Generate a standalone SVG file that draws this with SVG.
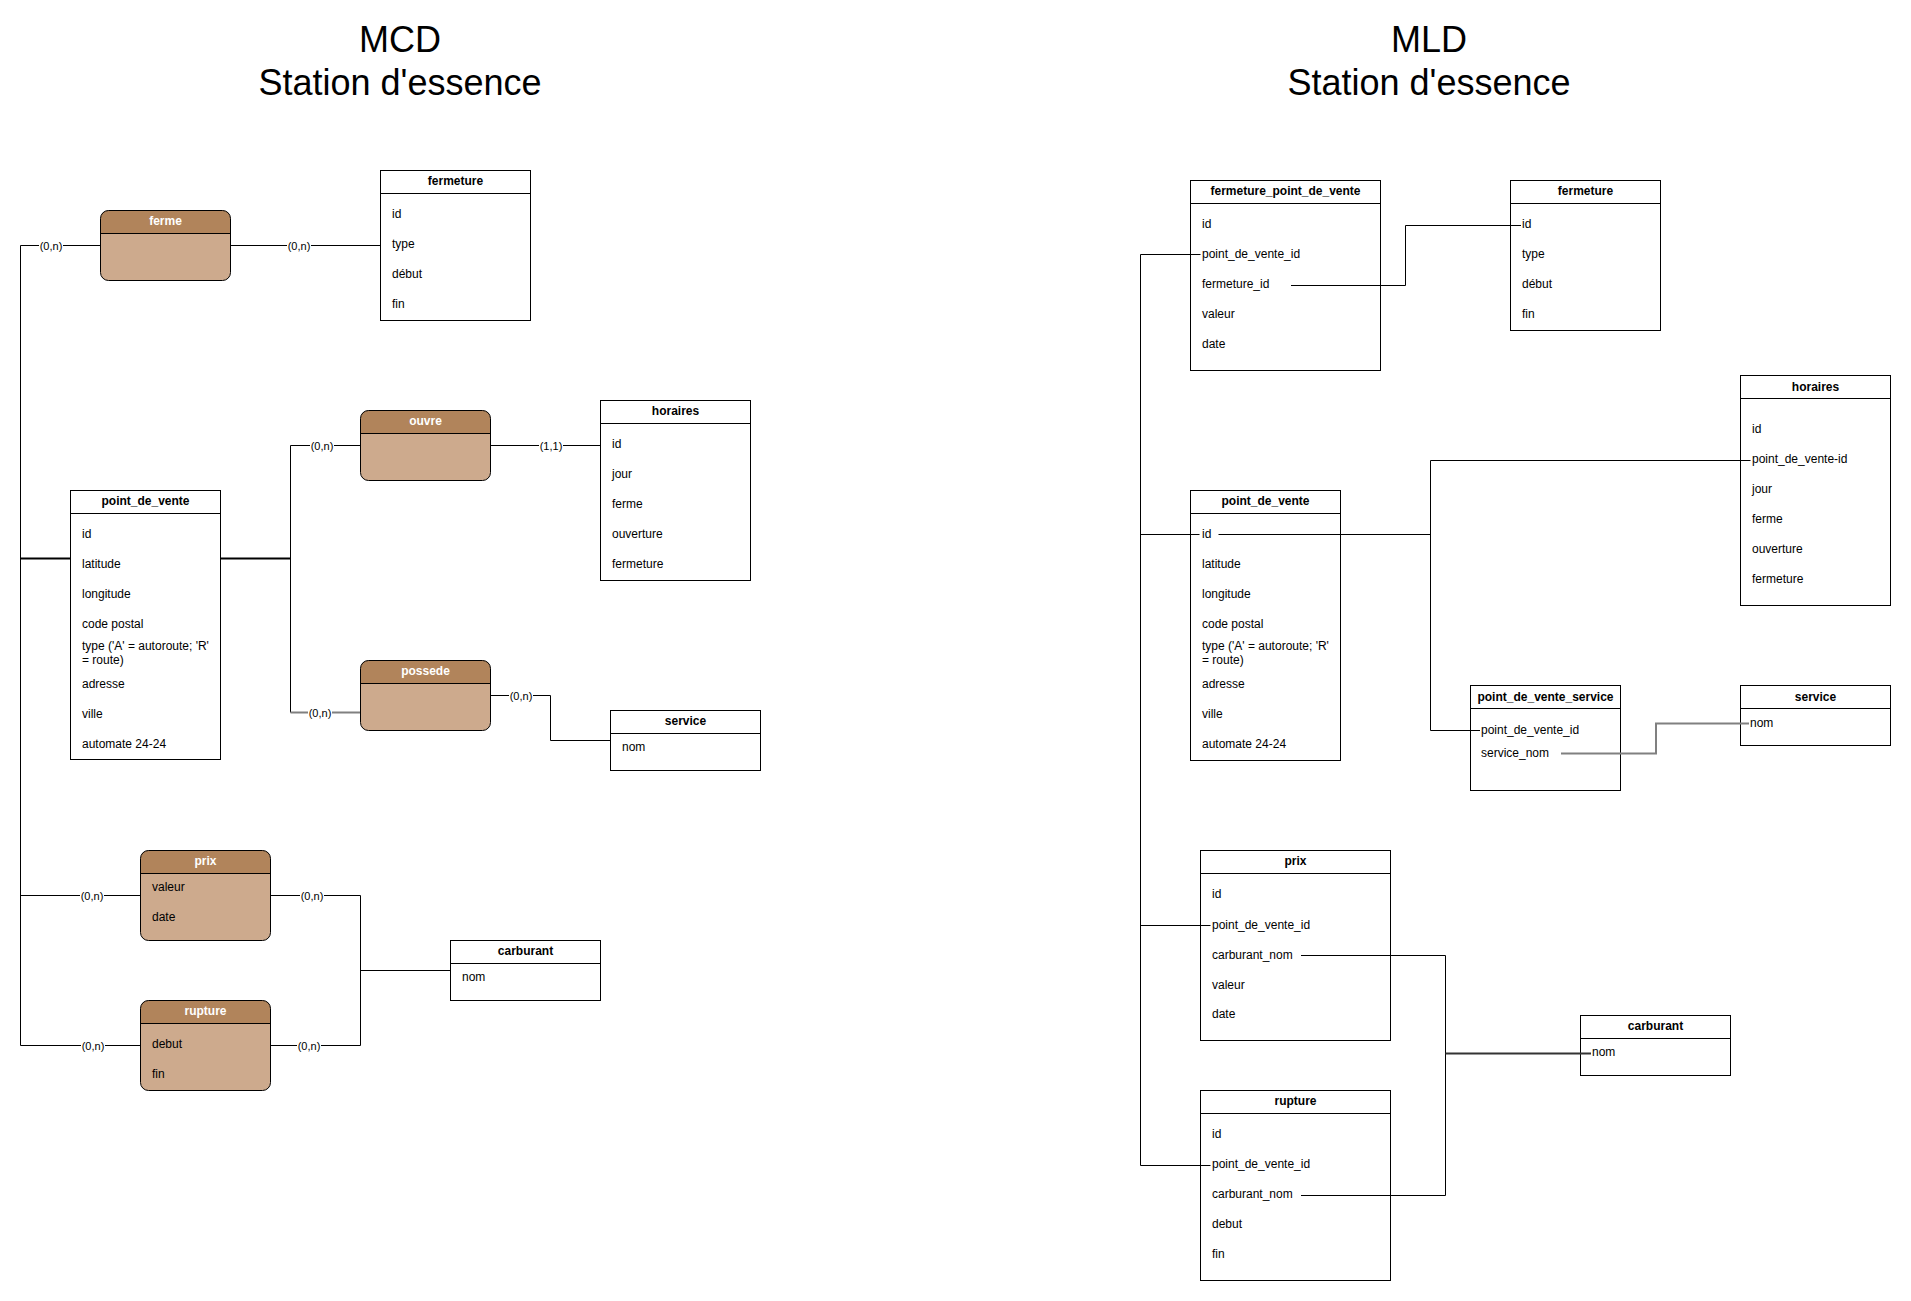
<svg xmlns="http://www.w3.org/2000/svg" width="1911" height="1301" viewBox="0 0 1911 1301">
<style>
text{font-family:"Liberation Sans",Arial,Helvetica,sans-serif;font-size:12px;fill:#000}
.title{font-size:36px;text-anchor:middle}
.box{fill:#fff;stroke:#000;stroke-width:1}
.ln{stroke:#000;stroke-width:1;fill:none}
.hd{font-weight:bold;text-anchor:middle}
.rbody{fill:#CDAA8D;stroke:none}
.rhead{fill:#B1845B;stroke:none}
.rout{fill:none;stroke:#000;stroke-width:1}
.rt{fill:#fff;font-weight:bold;text-anchor:middle}
.c{fill:none;stroke:#000;stroke-width:1}
.cb{fill:none;stroke:#000;stroke-width:2}
.cg{fill:none;stroke:#808080;stroke-width:2}
.cd{fill:none;stroke:#333;stroke-width:2}
.lb{font-size:11px;text-anchor:middle}
.lbg{fill:#fff}
</style>

<g id="titles">
<text class="title" x="400" y="51.5">MCD</text>
<text class="title" x="400" y="95">Station d'essence</text>
<text class="title" x="1429" y="51.5">MLD</text>
<text class="title" x="1429" y="95">Station d'essence</text>
</g>

<g id="connectors">
<!-- MCD -->
<path class="c" d="M100.5 245.5H20.5V1045.5H140.5"/>
<path class="cb" d="M20.5 558.5H70.5"/>
<path class="c" d="M20.5 895.5H140.5"/>
<path class="c" d="M230.5 245.5H380.5"/>
<path class="cb" d="M220.5 558.5H290.5"/>
<path class="c" d="M360.5 445.5H290.5V712.5"/>
<path class="cg" d="M290.5 712.5H360.5"/>
<path class="c" d="M490.5 445.5H600.5"/>
<path class="c" d="M490.5 695.5H550.5V740.5H610.5"/>
<path class="c" d="M270.5 895.5H360.5V1045.5H270.5"/>
<path class="c" d="M360.5 970.5H450.5"/>
<!-- MCD labels -->
<rect class="lbg" x="39" y="239" width="24" height="13"/><text class="lb" x="51" y="249.5">(0,n)</text>
<rect class="lbg" x="287" y="239" width="24" height="13"/><text class="lb" x="299" y="249.5">(0,n)</text>
<rect class="lbg" x="310" y="439" width="24" height="13"/><text class="lb" x="322" y="449.5">(0,n)</text>
<rect class="lbg" x="539" y="439" width="24" height="13"/><text class="lb" x="551" y="449.5">(1,1)</text>
<rect class="lbg" x="308" y="706" width="24" height="13"/><text class="lb" x="320" y="716.5">(0,n)</text>
<rect class="lbg" x="509" y="689" width="24" height="13"/><text class="lb" x="521" y="699.5">(0,n)</text>
<rect class="lbg" x="80" y="889" width="24" height="13"/><text class="lb" x="92" y="899.5">(0,n)</text>
<rect class="lbg" x="300" y="889" width="24" height="13"/><text class="lb" x="312" y="899.5">(0,n)</text>
<rect class="lbg" x="81" y="1039" width="24" height="13"/><text class="lb" x="93" y="1049.5">(0,n)</text>
<rect class="lbg" x="297" y="1039" width="24" height="13"/><text class="lb" x="309" y="1049.5">(0,n)</text>
</g>

<!-- MCD entities -->
<g id="mcd-fermeture">
<rect class="box" x="380.5" y="170.5" width="150" height="150"/>
<path class="ln" d="M380.5 193.5H530.5"/>
<text class="hd" x="455.5" y="185">fermeture</text>
<text x="392" y="217.5">id</text>
<text x="392" y="247.5">type</text>
<text x="392" y="277.5">début</text>
<text x="392" y="307.5">fin</text>
</g>

<g id="mcd-horaires">
<rect class="box" x="600.5" y="400.5" width="150" height="180"/>
<path class="ln" d="M600.5 423.5H750.5"/>
<text class="hd" x="675.5" y="415">horaires</text>
<text x="612" y="447.5">id</text>
<text x="612" y="477.5">jour</text>
<text x="612" y="507.5">ferme</text>
<text x="612" y="537.5">ouverture</text>
<text x="612" y="567.5">fermeture</text>
</g>

<g id="mcd-point_de_vente">
<rect class="box" x="70.5" y="490.5" width="150" height="269"/>
<path class="ln" d="M70.5 513.5H220.5"/>
<text class="hd" x="145.5" y="505">point_de_vente</text>
<text x="82" y="537.5">id</text>
<text x="82" y="567.5">latitude</text>
<text x="82" y="597.5">longitude</text>
<text x="82" y="627.5">code postal</text>
<text x="82" y="650">type ('A' = autoroute; 'R'</text>
<text x="82" y="663.5">= route)</text>
<text x="82" y="687.5">adresse</text>
<text x="82" y="717.5">ville</text>
<text x="82" y="747.5">automate 24-24</text>
</g>

<g id="mcd-service">
<rect class="box" x="610.5" y="710.5" width="150" height="60"/>
<path class="ln" d="M610.5 733.5H760.5"/>
<text class="hd" x="685.5" y="725">service</text>
<text x="622" y="751">nom</text>
</g>

<g id="mcd-carburant">
<rect class="box" x="450.5" y="940.5" width="150" height="60"/>
<path class="ln" d="M450.5 963.5H600.5"/>
<text class="hd" x="525.5" y="955">carburant</text>
<text x="462" y="981">nom</text>
</g>

<!-- MCD relations -->
<g id="rel-ferme">
<rect class="rbody" x="100.5" y="210.5" width="130" height="70" rx="8"/>
<path class="rhead" d="M100.5 233.5V218.5A8 8 0 0 1 108.5 210.5H222.5A8 8 0 0 1 230.5 218.5V233.5Z"/>
<rect class="rout" x="100.5" y="210.5" width="130" height="70" rx="8"/>
<path class="ln" d="M100.5 233.5H230.5"/>
<text class="rt" x="165.5" y="225">ferme</text>
</g>

<g id="rel-ouvre">
<rect class="rbody" x="360.5" y="410.5" width="130" height="70" rx="8"/>
<path class="rhead" d="M360.5 433.5V418.5A8 8 0 0 1 368.5 410.5H482.5A8 8 0 0 1 490.5 418.5V433.5Z"/>
<rect class="rout" x="360.5" y="410.5" width="130" height="70" rx="8"/>
<path class="ln" d="M360.5 433.5H490.5"/>
<text class="rt" x="425.5" y="425">ouvre</text>
</g>

<g id="rel-possede">
<rect class="rbody" x="360.5" y="660.5" width="130" height="70" rx="8"/>
<path class="rhead" d="M360.5 683.5V668.5A8 8 0 0 1 368.5 660.5H482.5A8 8 0 0 1 490.5 668.5V683.5Z"/>
<rect class="rout" x="360.5" y="660.5" width="130" height="70" rx="8"/>
<path class="ln" d="M360.5 683.5H490.5"/>
<text class="rt" x="425.5" y="675">possede</text>
</g>

<g id="rel-prix">
<rect class="rbody" x="140.5" y="850.5" width="130" height="90" rx="8"/>
<path class="rhead" d="M140.5 873.5V858.5A8 8 0 0 1 148.5 850.5H262.5A8 8 0 0 1 270.5 858.5V873.5Z"/>
<rect class="rout" x="140.5" y="850.5" width="130" height="90" rx="8"/>
<path class="ln" d="M140.5 873.5H270.5"/>
<text class="rt" x="205.5" y="865">prix</text>
<text x="152" y="891">valeur</text>
<text x="152" y="921">date</text>
</g>

<g id="rel-rupture">
<rect class="rbody" x="140.5" y="1000.5" width="130" height="90" rx="8"/>
<path class="rhead" d="M140.5 1023.5V1008.5A8 8 0 0 1 148.5 1000.5H262.5A8 8 0 0 1 270.5 1008.5V1023.5Z"/>
<rect class="rout" x="140.5" y="1000.5" width="130" height="90" rx="8"/>
<path class="ln" d="M140.5 1023.5H270.5"/>
<text class="rt" x="205.5" y="1015">rupture</text>
<text x="152" y="1047.5">debut</text>
<text x="152" y="1077.5">fin</text>
</g>

<!-- MLD tables -->
<g id="mld-fermeture_point_de_vente">
<rect class="box" x="1190.5" y="180.5" width="190" height="190"/>
<path class="ln" d="M1190.5 203.5H1380.5"/>
<text class="hd" x="1285.5" y="195">fermeture_point_de_vente</text>
<text x="1202" y="227.5">id</text>
<text x="1202" y="258">point_de_vente_id</text>
<text x="1202" y="288">fermeture_id</text>
<text x="1202" y="318">valeur</text>
<text x="1202" y="347.5">date</text>
</g>

<g id="mld-fermeture">
<rect class="box" x="1510.5" y="180.5" width="150" height="150"/>
<path class="ln" d="M1510.5 203.5H1660.5"/>
<text class="hd" x="1585.5" y="195">fermeture</text>
<text x="1522" y="227.5">id</text>
<text x="1522" y="258">type</text>
<text x="1522" y="288">début</text>
<text x="1522" y="318">fin</text>
</g>

<g id="mld-horaires">
<rect class="box" x="1740.5" y="375.5" width="150" height="230"/>
<path class="ln" d="M1740.5 398.5H1890.5"/>
<text class="hd" x="1815.5" y="391">horaires</text>
<text x="1752" y="433">id</text>
<text x="1752" y="463">point_de_vente-id</text>
<text x="1752" y="493">jour</text>
<text x="1752" y="523">ferme</text>
<text x="1752" y="553">ouverture</text>
<text x="1752" y="583">fermeture</text>
</g>

<g id="mld-point_de_vente">
<rect class="box" x="1190.5" y="490.5" width="150" height="270"/>
<path class="ln" d="M1190.5 513.5H1340.5"/>
<text class="hd" x="1265.5" y="505">point_de_vente</text>
<text x="1202" y="538">id</text>
<text x="1202" y="568">latitude</text>
<text x="1202" y="598">longitude</text>
<text x="1202" y="628">code postal</text>
<text x="1202" y="650">type ('A' = autoroute; 'R'</text>
<text x="1202" y="663.5">= route)</text>
<text x="1202" y="688">adresse</text>
<text x="1202" y="718">ville</text>
<text x="1202" y="748">automate 24-24</text>
</g>

<g id="mld-point_de_vente_service">
<rect class="box" x="1470.5" y="685.5" width="150" height="105"/>
<path class="ln" d="M1470.5 708.5H1620.5"/>
<text class="hd" x="1545.5" y="701">point_de_vente_service</text>
<text x="1481" y="733.5">point_de_vente_id</text>
<text x="1481" y="757">service_nom</text>
</g>

<g id="mld-service">
<rect class="box" x="1740.5" y="685.5" width="150" height="60"/>
<path class="ln" d="M1740.5 708.5H1890.5"/>
<text class="hd" x="1815.5" y="701">service</text>
<text x="1750" y="726.5">nom</text>
</g>

<g id="mld-prix">
<rect class="box" x="1200.5" y="850.5" width="190" height="190"/>
<path class="ln" d="M1200.5 873.5H1390.5"/>
<text class="hd" x="1295.5" y="865">prix</text>
<text x="1212" y="897.5">id</text>
<text x="1212" y="928.5">point_de_vente_id</text>
<text x="1212" y="958.5">carburant_nom</text>
<text x="1212" y="988.5">valeur</text>
<text x="1212" y="1018">date</text>
</g>

<g id="mld-rupture">
<rect class="box" x="1200.5" y="1090.5" width="190" height="190"/>
<path class="ln" d="M1200.5 1113.5H1390.5"/>
<text class="hd" x="1295.5" y="1105">rupture</text>
<text x="1212" y="1137.5">id</text>
<text x="1212" y="1168">point_de_vente_id</text>
<text x="1212" y="1198">carburant_nom</text>
<text x="1212" y="1228">debut</text>
<text x="1212" y="1258">fin</text>
</g>

<g id="mld-carburant">
<rect class="box" x="1580.5" y="1015.5" width="150" height="60"/>
<path class="ln" d="M1580.5 1038.5H1730.5"/>
<text class="hd" x="1655.5" y="1030">carburant</text>
<text x="1592" y="1056">nom</text>
</g>

<g id="mld-connectors">
<path class="c" d="M1200.5 254.5H1140.5V1165.5H1210.5"/>
<path class="c" d="M1140.5 534.5H1199.5"/>
<path class="c" d="M1140.5 925.5H1210.5"/>
<path class="c" d="M1218.5 534.5H1430.5"/>
<path class="c" d="M1750.5 460.5H1430.5V730.5H1480"/>
<path class="c" d="M1291 285.5H1405.5V225.5H1521"/>
<path class="cg" d="M1561 753.5H1656V723.5H1749"/>
<path class="c" d="M1301 955.5H1445.5V1195.5H1301"/>
<path class="cd" d="M1445.5 1053.5H1591"/>
</g>
</svg>
